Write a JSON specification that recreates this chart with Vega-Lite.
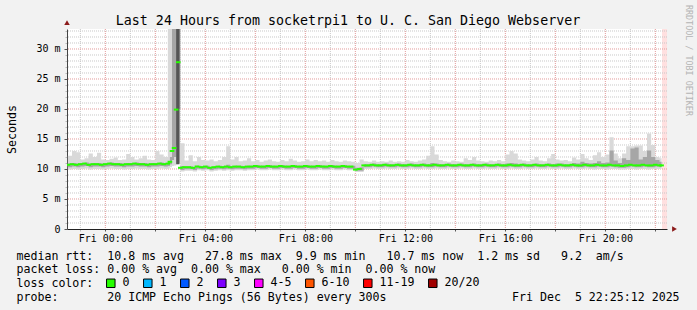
{
  "$schema": "https://vega.github.io/schema/vega-lite/v6.json",
  "width": 600,
  "height": 200,
  "autosize": "none",
  "padding": {"left": 67, "top": 29, "right": 30, "bottom": 81},
  "background": "#f2f2f2",
  "title": {
    "text": "Last 24 Hours from socketrpi1 to U. C. San Diego Webserver",
    "font": "DejaVu Sans Mono",
    "fontSize": 13.3,
    "fontWeight": "normal",
    "color": "#000000",
    "anchor": "middle",
    "frame": "group",
    "dx": -19,
    "baseline": "alphabetic",
    "offset": -34
  },
  "datasets": {
    "smoke": [
      {"m": -90, "med": 10.7, "lo": 9.9, "q1": 10.3, "q3": 10.9, "hi": 12.2},
      {"m": -80, "med": 10.8, "lo": 10.0, "q1": 10.4, "q3": 11.0, "hi": 13.0},
      {"m": -70, "med": 10.7, "lo": 9.9, "q1": 10.3, "q3": 10.9, "hi": 12.8},
      {"m": -60, "med": 10.8, "lo": 10.0, "q1": 10.4, "q3": 11.0, "hi": 11.6},
      {"m": -50, "med": 10.9, "lo": 10.1, "q1": 10.5, "q3": 11.1, "hi": 11.8},
      {"m": -40, "med": 10.7, "lo": 9.9, "q1": 10.3, "q3": 10.9, "hi": 12.6},
      {"m": -30, "med": 10.8, "lo": 10.0, "q1": 10.4, "q3": 11.0, "hi": 12.0},
      {"m": -20, "med": 10.8, "lo": 10.0, "q1": 10.4, "q3": 11.0, "hi": 12.7},
      {"m": -10, "med": 10.7, "lo": 9.9, "q1": 10.3, "q3": 10.9, "hi": 11.6},
      {"m": 0, "med": 10.8, "lo": 10.0, "q1": 10.4, "q3": 11.0, "hi": 11.5},
      {"m": 10, "med": 10.9, "lo": 10.1, "q1": 10.5, "q3": 11.1, "hi": 11.7},
      {"m": 20, "med": 10.8, "lo": 10.0, "q1": 10.4, "q3": 11.0, "hi": 11.9},
      {"m": 30, "med": 10.8, "lo": 10.0, "q1": 10.4, "q3": 11.0, "hi": 11.5},
      {"m": 40, "med": 10.7, "lo": 9.9, "q1": 10.3, "q3": 10.9, "hi": 11.6},
      {"m": 50, "med": 10.8, "lo": 10.0, "q1": 10.4, "q3": 11.0, "hi": 12.5},
      {"m": 60, "med": 10.8, "lo": 10.0, "q1": 10.4, "q3": 11.0, "hi": 12.0},
      {"m": 70, "med": 10.9, "lo": 10.1, "q1": 10.5, "q3": 11.1, "hi": 11.6},
      {"m": 80, "med": 10.8, "lo": 10.0, "q1": 10.4, "q3": 11.0, "hi": 11.8},
      {"m": 90, "med": 10.8, "lo": 10.0, "q1": 10.4, "q3": 11.0, "hi": 12.2},
      {"m": 100, "med": 10.7, "lo": 9.9, "q1": 10.3, "q3": 10.9, "hi": 11.6},
      {"m": 110, "med": 10.8, "lo": 10.0, "q1": 10.4, "q3": 11.0, "hi": 11.5},
      {"m": 120, "med": 10.8, "lo": 10.0, "q1": 10.4, "q3": 11.0, "hi": 13.0},
      {"m": 130, "med": 10.9, "lo": 10.1, "q1": 10.5, "q3": 11.1, "hi": 12.4},
      {"m": 140, "med": 10.8, "lo": 10.0, "q1": 10.4, "q3": 11.0, "hi": 12.0},
      {"m": 150, "med": 10.9, "lo": 10.1, "q1": 10.5, "q3": 11.2, "hi": 60},
      {"m": 155, "med": 11.2, "lo": 10.3, "q1": 10.8, "q3": 12.0, "hi": 60},
      {"m": 160, "med": 13.0, "lo": 10.5, "q1": 11.5, "q3": 60, "hi": 60},
      {"m": 165, "med": 13.5, "lo": 10.6, "q1": 12.0, "q3": 60, "hi": 60},
      {"m": 170, "med": 19.9, "lo": 10.8, "q1": 14.0, "q3": 60, "hi": 60},
      {"m": 175, "med": 27.8, "lo": 11.0, "q1": 20.0, "q3": 60, "hi": 60},
      {"m": 180, "med": 10.2, "lo": 9.6, "q1": 9.85, "q3": 10.5, "hi": 14.3},
      {"m": 190, "med": 10.3, "lo": 9.7, "q1": 9.95, "q3": 10.45, "hi": 11.4},
      {"m": 200, "med": 10.3, "lo": 9.7, "q1": 9.95, "q3": 10.45, "hi": 12.3},
      {"m": 210, "med": 10.2, "lo": 9.6, "q1": 9.85, "q3": 10.35, "hi": 11.3},
      {"m": 220, "med": 10.4, "lo": 9.8, "q1": 10.05, "q3": 10.55, "hi": 12.0},
      {"m": 230, "med": 10.3, "lo": 9.7, "q1": 9.95, "q3": 10.45, "hi": 11.5},
      {"m": 240, "med": 10.4, "lo": 9.8, "q1": 10.05, "q3": 10.55, "hi": 11.4},
      {"m": 250, "med": 10.2, "lo": 9.6, "q1": 9.85, "q3": 10.35, "hi": 11.6},
      {"m": 260, "med": 10.3, "lo": 9.7, "q1": 9.95, "q3": 10.45, "hi": 11.3},
      {"m": 270, "med": 10.4, "lo": 9.8, "q1": 10.05, "q3": 10.55, "hi": 11.5},
      {"m": 280, "med": 10.3, "lo": 9.7, "q1": 9.95, "q3": 10.45, "hi": 12.0},
      {"m": 290, "med": 10.4, "lo": 9.8, "q1": 10.05, "q3": 10.7, "hi": 13.8},
      {"m": 300, "med": 10.3, "lo": 9.7, "q1": 9.95, "q3": 10.45, "hi": 11.6},
      {"m": 310, "med": 10.4, "lo": 9.8, "q1": 10.05, "q3": 10.55, "hi": 12.0},
      {"m": 320, "med": 10.4, "lo": 9.8, "q1": 10.05, "q3": 10.55, "hi": 11.3},
      {"m": 330, "med": 10.3, "lo": 9.7, "q1": 9.95, "q3": 10.45, "hi": 11.4},
      {"m": 340, "med": 10.4, "lo": 9.8, "q1": 10.05, "q3": 10.55, "hi": 11.8},
      {"m": 350, "med": 10.4, "lo": 9.8, "q1": 10.05, "q3": 10.55, "hi": 11.3},
      {"m": 360, "med": 10.5, "lo": 9.9, "q1": 10.15, "q3": 10.65, "hi": 11.5},
      {"m": 370, "med": 10.4, "lo": 9.8, "q1": 10.05, "q3": 10.55, "hi": 11.2},
      {"m": 380, "med": 10.4, "lo": 9.8, "q1": 10.05, "q3": 10.55, "hi": 11.4},
      {"m": 390, "med": 10.5, "lo": 9.9, "q1": 10.15, "q3": 10.65, "hi": 11.6},
      {"m": 400, "med": 10.4, "lo": 9.8, "q1": 10.05, "q3": 10.55, "hi": 11.3},
      {"m": 410, "med": 10.4, "lo": 9.8, "q1": 10.05, "q3": 10.55, "hi": 11.2},
      {"m": 420, "med": 10.5, "lo": 9.9, "q1": 10.15, "q3": 10.65, "hi": 11.5},
      {"m": 430, "med": 10.4, "lo": 9.8, "q1": 10.05, "q3": 10.55, "hi": 11.3},
      {"m": 440, "med": 10.4, "lo": 9.8, "q1": 10.05, "q3": 10.55, "hi": 11.7},
      {"m": 450, "med": 10.5, "lo": 9.9, "q1": 10.15, "q3": 10.65, "hi": 11.4},
      {"m": 460, "med": 10.4, "lo": 9.8, "q1": 10.05, "q3": 10.55, "hi": 11.2},
      {"m": 470, "med": 10.4, "lo": 9.8, "q1": 10.05, "q3": 10.55, "hi": 11.3},
      {"m": 480, "med": 10.5, "lo": 9.9, "q1": 10.15, "q3": 10.65, "hi": 11.6},
      {"m": 490, "med": 10.4, "lo": 9.8, "q1": 10.05, "q3": 10.55, "hi": 11.3},
      {"m": 500, "med": 10.4, "lo": 9.8, "q1": 10.05, "q3": 10.55, "hi": 11.5},
      {"m": 510, "med": 10.5, "lo": 9.9, "q1": 10.15, "q3": 10.65, "hi": 11.3},
      {"m": 520, "med": 10.4, "lo": 9.8, "q1": 10.05, "q3": 10.55, "hi": 11.4},
      {"m": 530, "med": 10.4, "lo": 9.8, "q1": 10.05, "q3": 10.55, "hi": 11.2},
      {"m": 540, "med": 10.5, "lo": 9.9, "q1": 10.15, "q3": 10.65, "hi": 11.5},
      {"m": 550, "med": 10.4, "lo": 9.8, "q1": 10.05, "q3": 10.55, "hi": 11.3},
      {"m": 560, "med": 10.4, "lo": 9.8, "q1": 10.05, "q3": 10.55, "hi": 11.2},
      {"m": 570, "med": 10.5, "lo": 9.9, "q1": 10.15, "q3": 10.65, "hi": 11.4},
      {"m": 580, "med": 10.4, "lo": 9.8, "q1": 10.05, "q3": 10.55, "hi": 11.3},
      {"m": 590, "med": 10.4, "lo": 9.8, "q1": 10.05, "q3": 10.55, "hi": 11.2},
      {"m": 600, "med": 9.9, "lo": 9.5, "q1": 9.7, "q3": 10.2, "hi": 11.0},
      {"m": 610, "med": 10.0, "lo": 9.5, "q1": 9.7, "q3": 10.3, "hi": 11.6},
      {"m": 620, "med": 10.6, "lo": 10.0, "q1": 10.3, "q3": 10.8, "hi": 11.3},
      {"m": 630, "med": 10.6, "lo": 10.0, "q1": 10.3, "q3": 10.8, "hi": 11.2},
      {"m": 640, "med": 10.7, "lo": 10.1, "q1": 10.4, "q3": 10.9, "hi": 11.4},
      {"m": 650, "med": 10.6, "lo": 10.0, "q1": 10.3, "q3": 10.8, "hi": 11.2},
      {"m": 660, "med": 10.6, "lo": 10.0, "q1": 10.3, "q3": 10.8, "hi": 11.3},
      {"m": 670, "med": 10.7, "lo": 10.1, "q1": 10.4, "q3": 10.9, "hi": 11.2},
      {"m": 680, "med": 10.6, "lo": 10.0, "q1": 10.3, "q3": 10.8, "hi": 11.4},
      {"m": 690, "med": 10.6, "lo": 10.0, "q1": 10.3, "q3": 10.8, "hi": 11.2},
      {"m": 700, "med": 10.7, "lo": 10.1, "q1": 10.4, "q3": 10.9, "hi": 11.3},
      {"m": 710, "med": 10.6, "lo": 10.0, "q1": 10.3, "q3": 10.8, "hi": 11.2},
      {"m": 720, "med": 10.6, "lo": 10.0, "q1": 10.3, "q3": 10.8, "hi": 11.5},
      {"m": 730, "med": 10.7, "lo": 10.1, "q1": 10.4, "q3": 10.9, "hi": 11.3},
      {"m": 740, "med": 10.6, "lo": 10.0, "q1": 10.3, "q3": 10.8, "hi": 11.2},
      {"m": 750, "med": 10.6, "lo": 10.0, "q1": 10.3, "q3": 10.8, "hi": 11.4},
      {"m": 760, "med": 10.7, "lo": 10.1, "q1": 10.4, "q3": 10.9, "hi": 11.6},
      {"m": 770, "med": 10.6, "lo": 10.0, "q1": 10.3, "q3": 10.8, "hi": 12.2},
      {"m": 780, "med": 10.6, "lo": 10.0, "q1": 10.3, "q3": 11.0, "hi": 13.8},
      {"m": 790, "med": 10.7, "lo": 10.1, "q1": 10.4, "q3": 10.9, "hi": 12.4},
      {"m": 800, "med": 10.6, "lo": 10.0, "q1": 10.3, "q3": 10.8, "hi": 11.5},
      {"m": 810, "med": 10.6, "lo": 10.0, "q1": 10.3, "q3": 10.8, "hi": 11.3},
      {"m": 820, "med": 10.7, "lo": 10.1, "q1": 10.4, "q3": 10.9, "hi": 11.2},
      {"m": 830, "med": 10.6, "lo": 10.0, "q1": 10.3, "q3": 10.8, "hi": 11.4},
      {"m": 840, "med": 10.6, "lo": 10.0, "q1": 10.3, "q3": 10.8, "hi": 11.3},
      {"m": 850, "med": 10.7, "lo": 10.1, "q1": 10.4, "q3": 10.9, "hi": 11.2},
      {"m": 860, "med": 10.6, "lo": 10.0, "q1": 10.3, "q3": 10.8, "hi": 11.8},
      {"m": 870, "med": 10.6, "lo": 10.0, "q1": 10.3, "q3": 10.8, "hi": 11.5},
      {"m": 880, "med": 10.7, "lo": 10.1, "q1": 10.4, "q3": 10.9, "hi": 12.0},
      {"m": 890, "med": 10.6, "lo": 10.0, "q1": 10.3, "q3": 10.8, "hi": 11.4},
      {"m": 900, "med": 10.6, "lo": 10.0, "q1": 10.3, "q3": 10.8, "hi": 11.3},
      {"m": 910, "med": 10.7, "lo": 10.1, "q1": 10.4, "q3": 10.9, "hi": 11.2},
      {"m": 920, "med": 10.6, "lo": 10.0, "q1": 10.3, "q3": 10.8, "hi": 11.4},
      {"m": 930, "med": 10.6, "lo": 10.0, "q1": 10.3, "q3": 10.8, "hi": 11.3},
      {"m": 940, "med": 10.7, "lo": 10.1, "q1": 10.4, "q3": 10.9, "hi": 11.5},
      {"m": 950, "med": 10.6, "lo": 10.0, "q1": 10.3, "q3": 10.8, "hi": 11.3},
      {"m": 960, "med": 10.6, "lo": 10.0, "q1": 10.3, "q3": 10.9, "hi": 12.4},
      {"m": 970, "med": 10.7, "lo": 10.1, "q1": 10.4, "q3": 11.0, "hi": 13.0},
      {"m": 980, "med": 10.6, "lo": 10.0, "q1": 10.3, "q3": 10.9, "hi": 12.6},
      {"m": 990, "med": 10.6, "lo": 10.0, "q1": 10.3, "q3": 10.8, "hi": 11.6},
      {"m": 1000, "med": 10.7, "lo": 10.1, "q1": 10.4, "q3": 10.9, "hi": 11.4},
      {"m": 1010, "med": 10.6, "lo": 10.0, "q1": 10.3, "q3": 10.8, "hi": 11.3},
      {"m": 1020, "med": 10.6, "lo": 10.0, "q1": 10.3, "q3": 10.8, "hi": 11.6},
      {"m": 1030, "med": 10.7, "lo": 10.1, "q1": 10.4, "q3": 10.9, "hi": 12.0},
      {"m": 1040, "med": 10.6, "lo": 10.0, "q1": 10.3, "q3": 10.8, "hi": 11.4},
      {"m": 1050, "med": 10.6, "lo": 10.0, "q1": 10.3, "q3": 10.8, "hi": 11.3},
      {"m": 1060, "med": 10.7, "lo": 10.1, "q1": 10.4, "q3": 10.9, "hi": 11.8},
      {"m": 1070, "med": 10.6, "lo": 10.0, "q1": 10.3, "q3": 10.8, "hi": 12.5},
      {"m": 1080, "med": 10.6, "lo": 10.0, "q1": 10.3, "q3": 10.9, "hi": 11.6},
      {"m": 1090, "med": 10.7, "lo": 10.1, "q1": 10.4, "q3": 10.9, "hi": 11.4},
      {"m": 1100, "med": 10.6, "lo": 10.0, "q1": 10.3, "q3": 10.8, "hi": 11.5},
      {"m": 1110, "med": 10.6, "lo": 10.0, "q1": 10.3, "q3": 10.8, "hi": 11.3},
      {"m": 1120, "med": 10.7, "lo": 10.1, "q1": 10.4, "q3": 11.0, "hi": 11.9},
      {"m": 1130, "med": 10.6, "lo": 10.0, "q1": 10.3, "q3": 10.9, "hi": 11.6},
      {"m": 1140, "med": 10.6, "lo": 10.0, "q1": 10.3, "q3": 11.2, "hi": 12.5},
      {"m": 1150, "med": 10.7, "lo": 10.1, "q1": 10.4, "q3": 11.0, "hi": 11.8},
      {"m": 1160, "med": 10.6, "lo": 10.0, "q1": 10.3, "q3": 10.9, "hi": 11.5},
      {"m": 1170, "med": 10.6, "lo": 9.9, "q1": 10.3, "q3": 11.0, "hi": 12.3},
      {"m": 1180, "med": 10.7, "lo": 10.0, "q1": 10.4, "q3": 11.3, "hi": 12.8},
      {"m": 1190, "med": 10.6, "lo": 10.0, "q1": 10.3, "q3": 11.0, "hi": 12.0},
      {"m": 1200, "med": 10.6, "lo": 9.9, "q1": 10.3, "q3": 11.1, "hi": 12.4},
      {"m": 1210, "med": 10.7, "lo": 10.0, "q1": 10.4, "q3": 13.1, "hi": 15.3},
      {"m": 1220, "med": 10.6, "lo": 10.0, "q1": 10.3, "q3": 11.4, "hi": 12.6},
      {"m": 1230, "med": 10.6, "lo": 9.9, "q1": 10.2, "q3": 11.0, "hi": 11.8},
      {"m": 1240, "med": 10.5, "lo": 9.9, "q1": 10.2, "q3": 11.8, "hi": 12.6},
      {"m": 1250, "med": 10.6, "lo": 10.0, "q1": 10.3, "q3": 11.5, "hi": 13.8},
      {"m": 1260, "med": 10.7, "lo": 10.0, "q1": 10.4, "q3": 13.4, "hi": 13.8},
      {"m": 1270, "med": 10.6, "lo": 9.9, "q1": 10.3, "q3": 13.6, "hi": 13.9},
      {"m": 1280, "med": 10.6, "lo": 10.0, "q1": 10.3, "q3": 11.6, "hi": 13.9},
      {"m": 1290, "med": 10.7, "lo": 10.0, "q1": 10.4, "q3": 12.0, "hi": 13.0},
      {"m": 1300, "med": 10.6, "lo": 9.9, "q1": 10.3, "q3": 13.1, "hi": 15.9},
      {"m": 1310, "med": 10.6, "lo": 10.0, "q1": 10.3, "q3": 12.0, "hi": 14.0},
      {"m": 1320, "med": 10.7, "lo": 10.0, "q1": 10.4, "q3": 11.5, "hi": 12.0},
      {"m": 1330, "med": 10.6, "lo": 10.0, "q1": 10.3, "q3": 11.2, "hi": 11.8},
      {"m": 1335, "med": 10.6, "lo": 10.0, "q1": 10.3, "q3": 11.2, "hi": 11.8}
    ],
    "dark": [
      {"seg": "s", "m": 170, "d1": 10.8, "d2": 60},
      {"seg": "s", "m": 178, "d1": 10.8, "d2": 60}
    ],
    "band": [
      {"a": 1336, "b": 1348}
    ],
    "gxminor": [
      {"gx": -60}, {"gx": 60}, {"gx": 180}, {"gx": 300}, {"gx": 420}, {"gx": 540},
      {"gx": 660}, {"gx": 780}, {"gx": 900}, {"gx": 1020}, {"gx": 1140}, {"gx": 1260}
    ],
    "gxmajor": [
      {"gx": 0}, {"gx": 120}, {"gx": 240}, {"gx": 360}, {"gx": 480}, {"gx": 600},
      {"gx": 720}, {"gx": 840}, {"gx": 960}, {"gx": 1080}, {"gx": 1200}, {"gx": 1320}
    ],
    "gyminor": [
      {"gy": 1}, {"gy": 2}, {"gy": 3}, {"gy": 4}, {"gy": 6}, {"gy": 7}, {"gy": 8}, {"gy": 9},
      {"gy": 11}, {"gy": 12}, {"gy": 13}, {"gy": 14}, {"gy": 16}, {"gy": 17}, {"gy": 18}, {"gy": 19},
      {"gy": 21}, {"gy": 22}, {"gy": 23}, {"gy": 24}, {"gy": 26}, {"gy": 27}, {"gy": 28}, {"gy": 29},
      {"gy": 31}, {"gy": 32}, {"gy": 33}
    ],
    "gymajor": [
      {"gy": 5}, {"gy": 10}, {"gy": 15}, {"gy": 20}, {"gy": 25}, {"gy": 30}
    ],
    "arrows": [
      {"m": -92, "v": 34.4, "shape": "up"},
      {"m": 1366, "v": 0, "shape": "right"}
    ]
  },
  "data": {"name": "smoke"},
  "layer": [
    {
      "data": {"name": "band"},
      "mark": {"type": "rect", "color": "#ffe0e0"},
      "encoding": {
        "x": {"field": "a", "type": "quantitative", "scale": {"domain": [-92, 1348], "nice": false, "zero": false}, "axis": null},
        "x2": {"field": "b"}
      }
    },
    {
      "data": {"name": "gxminor"},
      "mark": {"type": "rule", "color": "#c8c8c8", "strokeWidth": 1, "strokeDash": [1, 1]},
      "encoding": {
        "x": {"field": "gx", "type": "quantitative", "scale": {"domain": [-92, 1348], "nice": false, "zero": false}, "axis": null}
      }
    },
    {
      "data": {"name": "gyminor"},
      "mark": {"type": "rule", "color": "#c8c8c8", "strokeWidth": 1, "strokeDash": [1, 1]},
      "encoding": {
        "y": {"field": "gy", "type": "quantitative", "scale": {"domain": [0, 33.333], "nice": false, "zero": false}, "axis": null}
      }
    },
    {
      "data": {"name": "gxmajor"},
      "mark": {"type": "rule", "color": "#e39a9a", "strokeWidth": 1, "strokeDash": [1, 1]},
      "encoding": {
        "x": {"field": "gx", "type": "quantitative", "scale": {"domain": [-92, 1348], "nice": false, "zero": false}, "axis": null}
      }
    },
    {
      "data": {"name": "gymajor"},
      "mark": {"type": "rule", "color": "#e39a9a", "strokeWidth": 1, "strokeDash": [1, 1]},
      "encoding": {
        "y": {"field": "gy", "type": "quantitative", "scale": {"domain": [0, 33.333], "nice": false, "zero": false}, "axis": null}
      }
    },
    {
      "mark": {"type": "area", "interpolate": "step-after", "color": "#d9d9d9", "opacity": 1, "clip": true},
      "encoding": {
        "x": {
          "field": "m",
          "type": "quantitative",
          "scale": {"domain": [-92, 1348], "nice": false, "zero": false},
          "axis": {
            "orient": "bottom",
            "values": [-60, 60, 180, 300, 420, 540, 660, 780, 900, 1020, 1140, 1260],
            "labels": false,
            "domain": false,
            "grid": false,
            "tickSize": 2,
            "tickColor": "#bbbbbb",
            "title": [
              "loss color:",
              "probe:\u00a0\u00a0\u00a0\u00a0\u00a0\u00a0\u00a020 ICMP Echo Pings (56 Bytes) every 300s\u00a0\u00a0\u00a0\u00a0\u00a0\u00a0\u00a0\u00a0\u00a0\u00a0\u00a0\u00a0\u00a0\u00a0\u00a0\u00a0\u00a0\u00a0Fri Dec\u00a0\u00a05 22:25:12 2025"
            ],
            "titleAnchor": "start",
            "titleAlign": "left",
            "titleBaseline": "top",
            "titleX": -51,
            "titleY": 48.4,
            "titleFontSize": 11.6,
            "titleLineHeight": 13.7
          }
        },
        "y": {
          "field": "lo",
          "type": "quantitative",
          "scale": {"domain": [0, 33.333], "nice": false, "zero": false},
          "axis": {
            "orient": "left",
            "values": [1, 2, 3, 4, 6, 7, 8, 9, 11, 12, 13, 14, 16, 17, 18, 19, 21, 22, 23, 24, 26, 27, 28, 29, 31, 32, 33],
            "labels": false,
            "domain": false,
            "grid": false,
            "tickSize": 2,
            "tickColor": "#bbbbbb",
            "title": null
          }
        },
        "y2": {"field": "hi"}
      }
    },
    {
      "mark": {"type": "area", "interpolate": "step-after", "color": "#a6a6a6", "opacity": 1, "clip": true},
      "encoding": {
        "x": {
          "field": "m",
          "type": "quantitative",
          "scale": {"domain": [-92, 1348], "nice": false, "zero": false},
          "axis": {
            "orient": "bottom",
            "values": [0, 120, 240, 360, 480, 600, 720, 840, 960, 1080, 1200, 1320],
            "labelExpr": "datum.value % 240 === 0 ? 'Fri ' + (datum.value < 600 ? '0' : '') + (datum.value / 60) + ':00' : ''",
            "labelOverlap": false,
            "labelFlush": false,
            "labelFontSize": 10,
            "labelPadding": 2,
            "labelBaseline": "top",
            "tickSize": 2,
            "tickColor": "#555555",
            "domainColor": "#222222",
            "grid": false,
            "title": [
              "median rtt:\u00a0\u00a010.8 ms avg\u00a0\u00a0\u00a027.8 ms max\u00a0\u00a09.9 ms min\u00a0\u00a0\u00a010.7 ms now\u00a0\u00a01.2 ms sd\u00a0\u00a0\u00a09.2\u00a0\u00a0am/s",
              "packet loss: 0.00 % avg\u00a0\u00a00.00 % max\u00a0\u00a0\u00a00.00 % min\u00a0\u00a00.00 % now"
            ],
            "titleAnchor": "start",
            "titleAlign": "left",
            "titleBaseline": "top",
            "titleX": -51,
            "titleY": 21,
            "titleFontSize": 11.6,
            "titleLineHeight": 13.7
          }
        },
        "y": {
          "field": "q1",
          "type": "quantitative",
          "scale": {"domain": [0, 33.333], "nice": false, "zero": false},
          "axis": {
            "orient": "left",
            "values": [0, 5, 10, 15, 20, 25, 30],
            "labelExpr": "datum.value === 0 ? '0' : datum.value + ' m'",
            "labelOverlap": false,
            "labelFlush": false,
            "labelFontSize": 10,
            "labelPadding": 4,
            "tickSize": 3,
            "tickColor": "#555555",
            "domainColor": "#444444",
            "grid": false,
            "title": "Seconds",
            "titleFontSize": 11.6,
            "titleAngle": -90,
            "titleX": -55,
            "titleY": 100,
            "titleAlign": "center",
            "titleBaseline": "middle"
          }
        },
        "y2": {"field": "q3"}
      }
    },
    {
      "data": {"name": "dark"},
      "mark": {"type": "area", "interpolate": "step-after", "color": "#555555", "opacity": 1, "clip": true},
      "encoding": {
        "x": {"field": "m", "type": "quantitative", "scale": {"domain": [-92, 1348], "nice": false, "zero": false}, "axis": null},
        "y": {"field": "d1", "type": "quantitative", "scale": {"domain": [0, 33.333], "nice": false, "zero": false}, "axis": null},
        "y2": {"field": "d2"},
        "detail": {"field": "seg", "type": "nominal"}
      }
    },
    {
      "data": {"name": "arrows"},
      "mark": {"type": "point", "filled": true, "size": 30, "color": "#8b1a1a", "opacity": 1, "clip": false},
      "encoding": {
        "x": {"field": "m", "type": "quantitative", "scale": {"domain": [-92, 1348], "nice": false, "zero": false}, "axis": null},
        "y": {"field": "v", "type": "quantitative", "scale": {"domain": [0, 33.333], "nice": false, "zero": false}, "axis": null},
        "shape": {
          "field": "shape",
          "type": "nominal",
          "scale": {"domain": ["up", "right"], "range": ["triangle-up", "triangle-right"]},
          "legend": null
        }
      }
    },
    {
      "mark": {"type": "tick", "orient": "horizontal", "size": 4.6, "thickness": 2, "opacity": 1, "clip": true},
      "encoding": {
        "x": {"field": "m", "type": "quantitative", "scale": {"domain": [-92, 1348], "nice": false, "zero": false}, "axis": null},
        "y": {
          "field": "med",
          "type": "quantitative",
          "scale": {"domain": [0, 33.333], "nice": false, "zero": false},
          "axis": {
            "orient": "right",
            "title": "RRDTOOL / TOBI OETIKER",
            "labels": false,
            "ticks": false,
            "domain": false,
            "grid": false,
            "titleColor": "#b4b4b4",
            "titleFontSize": 8.4,
            "titleAngle": 90,
            "titleX": 21,
            "titleY": 31,
            "titleAlign": "center",
            "titleBaseline": "middle"
          }
        },
        "color": {
          "datum": "0",
          "type": "nominal",
          "scale": {
            "domain": ["0", "1", "2", "3", "4-5", "6-10", "11-19", "20/20"],
            "range": ["#26ff00", "#00b8ff", "#0059ff", "#7e00ff", "#ff00ff", "#ff5500", "#ff0000", "#a10000"]
          },
          "legend": {
            "title": null,
            "orient": "none",
            "legendX": 38,
            "legendY": 248,
            "direction": "horizontal",
            "symbolType": "square",
            "symbolSize": 72,
            "symbolStrokeColor": "#000000",
            "symbolStrokeWidth": 1,
            "labelFont": "DejaVu Sans Mono",
            "labelFontSize": 11.6,
            "labelColor": "#000000",
            "labelOffset": 6,
            "columnPadding": 11,
            "padding": 0,
            "encode": {
              "symbols": {"update": {"stroke": {"value": "#000000"}, "strokeWidth": {"value": 1}, "opacity": {"value": 1}, "fillOpacity": {"value": 1}}}
            }
          }
        }
      }
    }
  ],
  "resolve": {"axis": {"x": "independent", "y": "independent"}},
  "config": {
    "font": "DejaVu Sans Mono",
    "view": {"fill": "#ffffff", "stroke": null},
    "axis": {
      "labelFont": "DejaVu Sans Mono",
      "labelColor": "#000000",
      "titleFont": "DejaVu Sans Mono",
      "titleFontWeight": "normal",
      "titleColor": "#000000"
    }
  }
}
